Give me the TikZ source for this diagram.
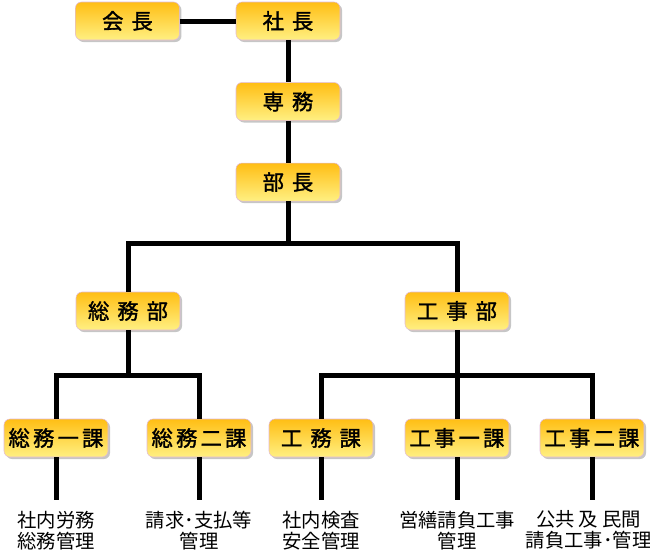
\documentclass[tikz,border=0pt]{standalone}
\usepackage{fontspec}
\setmainfont{Noto Sans CJK JP}
\newfontfamily\postfont[LetterSpace=15, FakeBold=1.5]{Noto Sans CJK JP}
\usetikzlibrary{positioning, shadows}
\definecolor{posttop}{RGB}{255, 190, 20}
\definecolor{postbot}{RGB}{255, 240, 130}
\definecolor{postedge}{RGB}{225, 185, 215}

\begin{document}
\begin{tikzpicture}[
            x=0.75pt, y=-0.75pt,
            post/.style={draw=postedge, top color=posttop, bottom color=postbot, rounded corners=4.5pt, minimum width=78pt, minimum height=28.5pt, inner sep=1pt, font=\postfont\fontsize{16}{18}\selectfont, drop shadow={shadow xshift=1.5pt, shadow yshift=-1.5pt, opacity=0.45}},
            duty/.style={inner sep=0pt, align=center, font=\fontsize{14.5}{15.75}\selectfont},
            link/.style={line width=3.75pt, black}
        ]
            \useasboundingbox (0,0) rectangle (650,553);

            % top of the chart
            \node[post] (shacho) at (288,21) {社 長};
            \node[post, left=42pt of shacho] (kaicho) {会 長};
            \node[post, below=31.5pt of shacho] (senmu) {専 務};
            \node[post, below=31.5pt of senmu] (bucho) {部 長};

            % departments
            \node[post] (soumubu) at (128,311) {総 務 部};
            \node[post] (koujibu) at (457,311) {工 事 部};

            % sections
            \node[post] (soumu1) at (56,438) {総務一課};
            \node[post] (soumu2) at (199,438) {総務二課};
            \node[post] (koumu) at (321,438) {工 務 課};
            \node[post] (kouji1) at (457,438) {工事一課};
            \node[post] (kouji2) at (592,438) {工事二課};

            % duties
            \node[duty, below=40pt of soumu1] (t1) {社内労務\\総務管理};
            \node[duty, below=40pt of soumu2] (t2) {請求･支払等\\管理};
            \node[duty, below=40pt of koumu] (t3) {社内検査\\安全管理};
            \node[duty, below=40pt of kouji1] (t4) {営繕請負工事\\管理};
            \node[duty, below=40pt of kouji2, xshift=-2.5pt] (t5) {公共 及 民間\\請負工事･管理};

            \coordinate (j1) at (288,243);
            \coordinate (j2) at (128,375);
            \coordinate (j3) at (457,375);

            \draw[link] (kaicho) -- (shacho);
            \draw[link] (shacho) -- (senmu);
            \draw[link] (senmu) -- (bucho);
            \draw[link] (bucho) -- (j1);
            \draw[link] (soumubu.north) |- (j1) -| (koujibu.north);

            \draw[link] (soumubu) -- (j2);
            \draw[link] (soumu1.north) |- (j2) -| (soumu2.north);
            \draw[link] (koumu.north) |- (j3) -| (kouji2.north);
            \draw[link] (koujibu) -- (kouji1);

            \foreach \s/\t in {soumu1/t1, soumu2/t2, koumu/t3, kouji1/t4}
                \draw[link, shorten >=8pt] (\s) -- (\t);
            \draw[link, shorten >=8pt] (kouji2) -- (kouji2 |- t5.north);
        \end{tikzpicture}
\end{document}
